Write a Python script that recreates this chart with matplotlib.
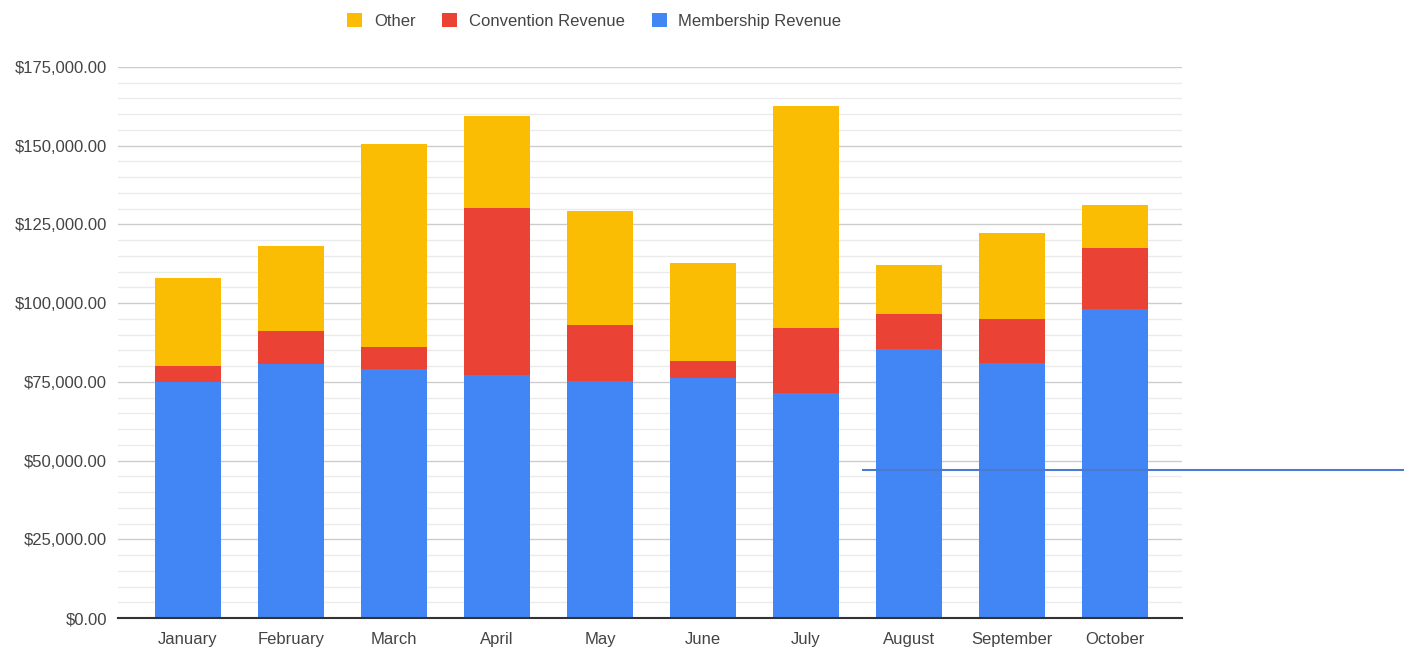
import matplotlib
matplotlib.use("Agg")
import matplotlib.pyplot as plt
from matplotlib.lines import Line2D
from matplotlib.ticker import MultipleLocator, FuncFormatter
import numpy as np

months = ["January", "February", "March", "April", "May", "June",
          "July", "August", "September", "October"]
membership = [75100, 80800, 79000, 77200, 75300, 76200, 71400, 85400, 81000, 98100]
convention = [4800, 10400, 7100, 53100, 17600, 5500, 20700, 11100, 14000, 19400]
other = [28000, 27000, 64500, 29200, 36500, 31000, 70500, 15700, 27200, 13700]

plt.rcParams['font.family'] = ['Liberation Sans', 'DejaVu Sans']

fig = plt.figure(figsize=(14.15, 6.48), dpi=100)
ax = fig.add_axes([118 / 1415, 1 - 618 / 648, (1182 - 118) / 1415, (618 - 67) / 648])

x = np.arange(len(months))
w = 0.64
mem = np.array(membership)
conv = np.array(convention)
oth = np.array(other)

b1 = ax.bar(x, mem, w, color="#4285F4", label="Membership Revenue", zorder=3)
b2 = ax.bar(x, conv, w, bottom=mem, color="#EA4335", label="Convention Revenue", zorder=3)
b3 = ax.bar(x, oth, w, bottom=mem + conv, color="#FBBC04", label="Other", zorder=3)

ax.set_ylim(0, 175000)
ax.set_xlim(-0.68, 9.65)
ax.yaxis.set_major_locator(MultipleLocator(25000))
ax.yaxis.set_minor_locator(MultipleLocator(5000))
ax.yaxis.set_major_formatter(FuncFormatter(lambda v, p: f"${v:,.2f}"))
ax.grid(axis="y", which="major", color="#cccccc", linewidth=1, zorder=0)
ax.grid(axis="y", which="minor", color="#ebebeb", linewidth=1, zorder=0)

ax.set_xticks(x)
ax.set_xticklabels(months)
ax.tick_params(axis="both", which="both", length=0, labelsize=12, colors="#444444")
ax.tick_params(axis="y", pad=8)
ax.tick_params(axis="x", pad=10)

for s in ["top", "right", "left"]:
    ax.spines[s].set_visible(False)
ax.spines["bottom"].set_color("#333333")
ax.spines["bottom"].set_linewidth(1.5)
ax.spines["bottom"].set_zorder(4)

fig.legend(handles=[b3, b2, b1], loc="center", bbox_to_anchor=(0.42, 0.968),
           ncol=3, frameon=False, fontsize=12, handlelength=0.9, handleheight=0.9,
           handletextpad=0.7, columnspacing=1.6, labelcolor="#444444")

# stray line across the right part of the picture
fig.add_artist(Line2D([863 / 1415, 1403 / 1415], [1 - 470 / 648, 1 - 470 / 648],
                      color="#4a7bd0", linewidth=1.5, zorder=10))

fig.savefig("out.png", dpi=100, facecolor="white")
